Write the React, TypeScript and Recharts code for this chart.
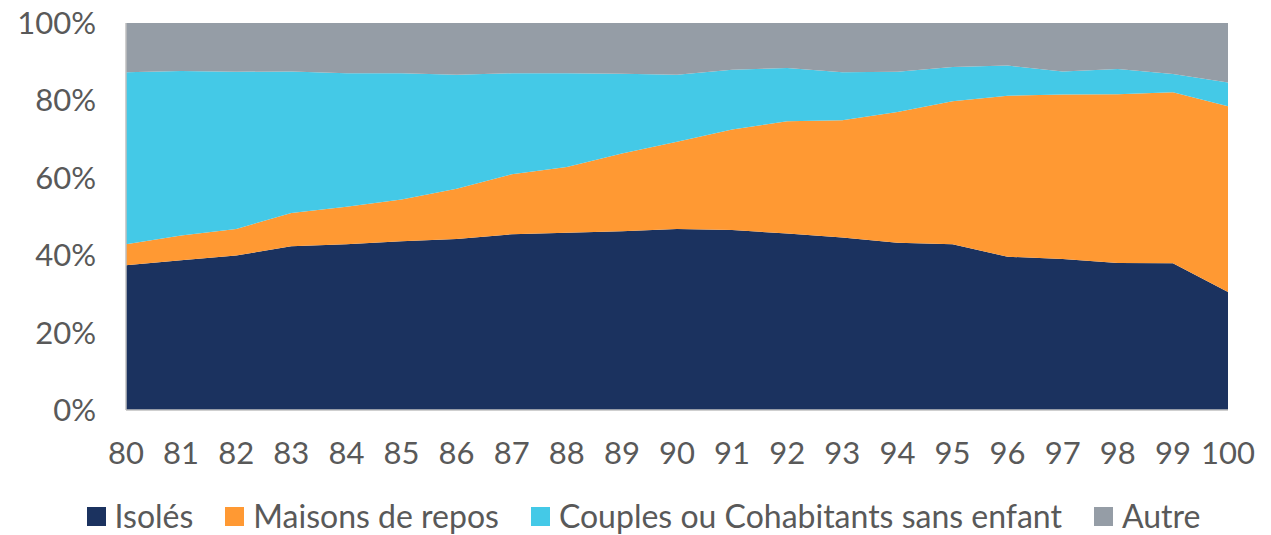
import React from "react";
import { AreaChart, Area, XAxis, YAxis, Legend } from "recharts";

const years = ["80","81","82","83","84","85","86","87","88","89","90","91","92","93","94","95","96","97","98","99","100"];
const isoles = [37.4,38.7,39.9,42.3,42.8,43.6,44.2,45.4,45.8,46.2,46.8,46.5,45.6,44.6,43.2,42.8,39.6,39.0,38.0,37.9,30.5];
const maisons = [5.4,6.4,6.9,8.6,9.7,10.8,13.0,15.5,17.0,20.1,22.5,26.0,29.0,30.3,33.8,37.0,41.6,42.5,43.6,44.2,48.0];
const couples = [44.5,42.5,40.6,36.6,34.5,32.6,29.4,26.1,24.2,20.6,17.3,15.4,13.8,12.4,10.4,8.8,7.8,6.0,6.5,4.7,6.1];
const autre = [12.7,12.4,12.6,12.5,13.0,13.0,13.4,13.0,13.0,13.1,13.4,12.1,11.6,12.7,12.6,11.4,11.0,12.5,11.9,13.2,15.4];
const yTicks = [0,20,40,60,80,100];

const seriesNames = ["Isolés","Maisons de repos","Couples ou Cohabitants sans enfant","Autre"];
const colors = ["#1B325F","#FF9933","#44C9E7","#959DA6"];

const data = years.map((y, i) => ({
  year: y,
  isoles: isoles[i],
  maisons: maisons[i],
  couples: couples[i],
  autre: autre[i],
}));

const FONT = "Lato, 'Open Sans', sans-serif";
const TEXT = "#595959";

const LegendContent = () => (
  <div style={{ display: "flex", justifyContent: "center", alignItems: "center", fontFamily: FONT, fontSize: 32, color: TEXT, height: 38, paddingLeft: 16 }}>
    {seriesNames.map((n, i) => (
      <div key={n} style={{ display: "flex", alignItems: "center", marginRight: i < seriesNames.length - 1 ? 32 : 0 }}>
        <span style={{ display: "inline-block", width: 19, height: 19, background: colors[i], marginRight: 9 }} />
        <span style={{ lineHeight: "38px" }}>{n}</span>
      </div>
    ))}
  </div>
);

export default function App() {
  return (
    <div style={{ width: 1271, height: 535, marginTop: -8, marginLeft: -8 }}>
      <AreaChart width={1271} height={535} data={data} margin={{ top: 23, right: 43, left: 0, bottom: 0 }}>
        <Area type="linear" dataKey="isoles" stackId="1" stroke="none" fill={colors[0]} fillOpacity={1} isAnimationActive={false} name={seriesNames[0]} />
        <Area type="linear" dataKey="maisons" stackId="1" stroke="none" fill={colors[1]} fillOpacity={1} isAnimationActive={false} name={seriesNames[1]} />
        <Area type="linear" dataKey="couples" stackId="1" stroke="none" fill={colors[2]} fillOpacity={1} isAnimationActive={false} name={seriesNames[2]} />
        <Area type="linear" dataKey="autre" stackId="1" stroke="none" fill={colors[3]} fillOpacity={1} isAnimationActive={false} name={seriesNames[3]} />
        <XAxis dataKey="year" interval={0} tickLine={false} tickSize={0} tickMargin={32} height={87}
          axisLine={{ stroke: "#BFBFBF", strokeWidth: 1.5 }}
          tick={{ fill: TEXT, fontSize: 31, fontFamily: FONT }} />
        <XAxis xAxisId="top" dataKey="year" orientation="top" tick={false} tickLine={false} height={0}
          axisLine={{ stroke: "#BFBFBF", strokeWidth: 1.5 }} />
        <YAxis domain={[0, 100]} ticks={yTicks} interval={0} tickFormatter={(v) => `${v}%`} tickLine={false} tickSize={0} tickMargin={30} width={126}
          axisLine={{ stroke: "#BFBFBF", strokeWidth: 1.5 }}
          tick={{ fill: TEXT, fontSize: 31, fontFamily: FONT }} />
        <YAxis yAxisId="right" orientation="right" domain={[0, 100]} tick={false} tickLine={false} width={0}
          axisLine={{ stroke: "#BFBFBF", strokeWidth: 1.5 }} />
        <Legend verticalAlign="bottom" content={<LegendContent />} wrapperStyle={{ left: 0, width: 1271, height: 38, bottom: 0 }} />
      </AreaChart>
    </div>
  );
}
